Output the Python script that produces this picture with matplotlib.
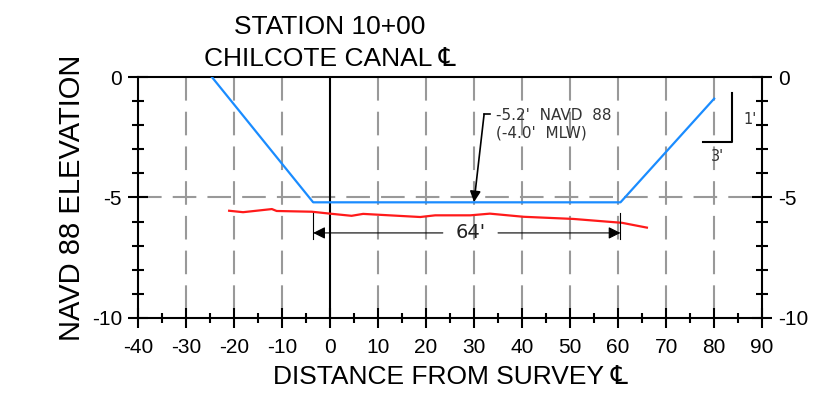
import matplotlib

matplotlib.use('Agg')
import matplotlib.pyplot as plt
from matplotlib.ticker import MultipleLocator

# canal design template (blue) and surveyed bottom (red)
design_x = [-24.6, -3.5, 60.5, 80.0]
design_y = [0.0, -5.2, -5.2, -0.9]

survey_x = [-21.0, -18.1, -12.1, -11.1, -3.8, 0.0, 4.5, 6.9, 18.8, 21.9,
            29.2, 33.3, 40.3, 50.7, 57.6, 60.8, 66.0]
survey_y = [-5.55, -5.61, -5.48, -5.56, -5.59, -5.67, -5.76, -5.68, -5.81,
            -5.74, -5.74, -5.67, -5.80, -5.89, -6.00, -6.05, -6.25]

x_ticks = list(range(-40, 100, 10))
y_ticks = [0, -5, -10]
grid_x = [-30, -20, -10, 10, 20, 30, 40, 50, 60, 70, 80]

bottom_width = 64
bottom_left, bottom_right = -3.5, 60.5

plt.rcParams['font.family'] = ['Liberation Sans', 'DejaVu Sans']
plt.rcParams['lines.scale_dashes'] = False

fig = plt.figure(figsize=(8.16, 4.07), dpi=100)
ax = fig.add_axes([0.169, 0.2187, 0.765, 0.5921])

ax.set_xlim(-40, 90)
ax.set_ylim(-10, 0)

grid_style = dict(color='#999999', linewidth=1.5, dashes=(17, 8), zorder=1)
for gx in grid_x:
    ax.plot([gx, gx], [0, -10], **grid_style)
ax.plot([-40, 90], [-5, -5], **grid_style)
ax.plot([0, 0], [0, -10], color='black', linewidth=1.5, zorder=2)

ax.plot(design_x, design_y, color='#1a8cff', linewidth=1.6, zorder=4)
ax.plot(survey_x, survey_y, color='#ff1a1a', linewidth=1.6, zorder=3)

# bottom width dimension
dim_y = -6.47
for xe in (bottom_left, bottom_right):
    ax.plot([xe, xe], [-5.64, -6.72], color='black', linewidth=0.8, zorder=5)
arrow = dict(arrowstyle='-|>', color='black', linewidth=0.8,
             mutation_scale=18, shrinkA=0, shrinkB=0)
ax.annotate('', xy=(bottom_left, dim_y), xytext=(23.5, dim_y),
            arrowprops=arrow, zorder=5)
ax.annotate('', xy=(bottom_right, dim_y), xytext=(35.0, dim_y),
            arrowprops=arrow, zorder=5)
ax.text(29.3, dim_y, f"{bottom_width}'", family='DejaVu Sans', fontsize=14,
        color='#222222', ha='center', va='center', zorder=6)

# elevation callout
ax.plot([32.1, 33.4], [-1.54, -1.54], color='black', linewidth=1.2)
ax.annotate('', xy=(30.0, -5.19), xytext=(32.1, -1.54),
            arrowprops=dict(arrowstyle='-|>', color='black', linewidth=1.2,
                            mutation_scale=16, shrinkA=0, shrinkB=0))
ax.text(34.6, -1.97, "-5.2'  NAVD  88\n(-4.0'  MLW)", family='DejaVu Sans',
        fontsize=11, color='#333333', ha='left', va='center', linespacing=1.2)

# side slope symbol
ax.plot([77.6, 83.7, 83.7], [-2.68, -2.68, -0.68], color='black', linewidth=1.5)
ax.text(87.5, -1.75, "1'", family='DejaVu Sans', fontsize=10.5,
        color='#333333', ha='center', va='center')
ax.text(80.7, -3.3, "3'", family='DejaVu Sans', fontsize=10.5,
        color='#333333', ha='center', va='center')

ax.set_xticks(x_ticks)
ax.set_xticklabels([str(v) for v in x_ticks])
ax.set_yticks(y_ticks)
ax.set_yticklabels([str(v) for v in y_ticks])
ax.xaxis.set_minor_locator(MultipleLocator(5))
ax.yaxis.set_minor_locator(MultipleLocator(1))

ax.tick_params(axis='x', which='major', direction='inout', length=14,
               width=1.5, labelsize=15, pad=7.5)
ax.tick_params(axis='x', which='minor', direction='inout', length=7, width=1.5)
ax.tick_params(axis='y', which='major', direction='inout', length=14.4,
               width=1.5, labelsize=15, left=True, right=True,
               labelleft=True, labelright=True, pad=4.3)
ax.tick_params(axis='y', which='minor', direction='inout', length=8,
               width=1.5, left=True, right=True)

for spine in ax.spines.values():
    spine.set_linewidth(1.5)

ax.set_xlabel('DISTANCE FROM SURVEY \u2104', fontsize=19, labelpad=5.6)
ax.set_ylabel('NAVD 88 ELEVATION', fontsize=21, labelpad=4)

title_lines = ['STATION 10+00', 'CHILCOTE CANAL \u2104']
title_offsets = [31, 8]
for line, off in zip(title_lines, title_offsets):
    ax.annotate(line, xy=(0, 0), xytext=(0, off), textcoords='offset points',
                fontsize=19, ha='center', va='baseline')

fig.savefig('out.png', dpi=100)
